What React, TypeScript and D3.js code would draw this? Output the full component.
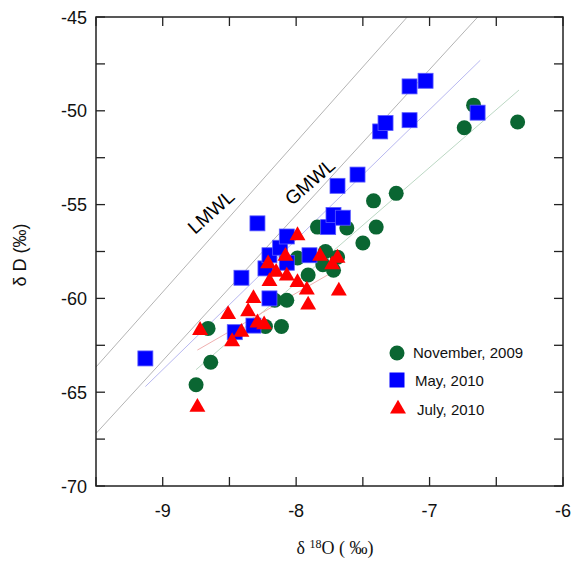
import React from "react";
import * as d3 from "d3";

const W = 573;
const H = 563;
const M = { left: 96, right: 10, top: 17, bottom: 77 };

const xDomain: [number, number] = [-9.5, -6];
const yDomain: [number, number] = [-70, -45];
const xTickLabels = [-9, -8, -7, -6];
const yTickLabels = [-70, -65, -60, -55, -50, -45];

// November, 2009
const novX = [-8.75, -8.64, -8.66, -8.23, -8.11, -8.16, -8.07, -7.99, -7.91, -7.84, -7.78, -7.8, -7.72, -7.69, -7.62, -7.5, -7.4, -7.42, -7.25, -6.74, -6.67, -6.34];
const novY = [-64.6, -63.4, -61.6, -61.5, -61.5, -60.1, -60.1, -57.85, -58.75, -56.2, -57.5, -58.2, -58.5, -57.8, -56.25, -57.05, -56.2, -54.8, -54.4, -50.9, -49.7, -50.6];

// May, 2010
const mayX = [-9.13, -8.46, -8.32, -8.41, -8.29, -8.2, -8.23, -8.2, -8.12, -8.07, -8.07, -7.9, -7.76, -7.72, -7.65, -7.69, -7.54, -7.37, -7.33, -7.15, -7.15, -7.03, -6.64];
const mayY = [-63.2, -61.8, -61.45, -58.9, -56.0, -60.0, -58.4, -57.7, -57.3, -56.7, -58.1, -57.7, -56.2, -55.55, -55.7, -54.0, -53.4, -51.1, -50.65, -50.5, -48.7, -48.4, -50.1];

// July, 2010
const julX = [-8.74, -8.72, -8.48, -8.41, -8.51, -8.36, -8.32, -8.29, -8.24, -8.2, -8.15, -8.21, -8.08, -8.07, -7.99, -7.99, -7.92, -7.91, -7.82, -7.73, -7.69, -7.68];
const julY = [-65.8, -61.7, -62.3, -61.8, -60.85, -60.7, -60.0, -61.3, -61.4, -59.1, -58.6, -58.15, -57.75, -58.8, -56.65, -59.15, -59.55, -60.35, -57.75, -58.2, -57.85, -59.6];

// Reference / regression lines: [x0, x1, slope, intercept]
const lineNames = ["LMWL", "GMWL", "May", "Nov", "Jul"];
const lineX0 = [-9.5, -9.5, -9.13, -8.75, -8.74];
const lineX1 = [-7.17, -6.64, -6.62, -6.33, -7.68];
const lineSlope = [8.0, 7.76, 6.93, 6.16, 4.1];
const lineIntercept = [12.34, 6.52, -1.43, -9.9, -26.92];
const lineColors = ["#b4b4b4", "#b4b4b4", "#b8b8f0", "#bcd8c4", "#f0b0b0"];

const legendLabels = ["November, 2009", "May, 2010", "July, 2010"];

const GREEN = "#0a6632";
const BLUE = "#0000ff";
const RED = "#ff0000";

export default function App() {
  const x = d3.scaleLinear().domain(xDomain).range([M.left, W - M.right - 0]);
  const y = d3.scaleLinear().domain(yDomain).range([H - M.bottom, M.top]);
  const x0 = M.left, x1 = W - M.right, y0 = M.top, y1 = H - M.bottom;

  const xMajor = d3.range(-9.5, -5.99, 0.5);
  const yMajor = d3.range(-70, -44.99, 2.5);
  const tick = 9;

  const sq = 15;
  const triPath = d3.symbol().type(d3.symbolTriangle).size(110)() as string;

  const nov = novX.map((v, i) => [v, novY[i]]);
  const may = mayX.map((v, i) => [v, mayY[i]]);
  const jul = julX.map((v, i) => [v, julY[i]]);

  const lineGen = d3.line<number[]>().x((d) => x(d[0])).y((d) => y(d[1]));

  return (
    <svg width={W} height={H} style={{ position: "absolute", left: 0, top: 0, background: "#fff" }}
      fontFamily="Liberation Sans, Arial, sans-serif">
      <defs>
        <clipPath id="plot">
          <rect x={x0} y={y0} width={x1 - x0} height={y1 - y0} />
        </clipPath>
      </defs>
      <g clipPath="url(#plot)">
        {lineNames.map((n, i) => {
          const pts = [lineX0[i], lineX1[i]].map((xv) => [xv, lineSlope[i] * xv + lineIntercept[i]]);
          return <path key={n} d={lineGen(pts) as string} stroke={lineColors[i]} strokeWidth={1} fill="none" />;
        })}
      </g>
      {/* markers */}
      {nov.map((d, i) => (
        <circle key={"n" + i} cx={x(d[0])} cy={y(d[1])} r={7.5} fill={GREEN} />
      ))}
      {may.map((d, i) => (
        <rect key={"m" + i} x={x(d[0]) - sq / 2} y={y(d[1]) - sq / 2} width={sq} height={sq} fill={BLUE} stroke="#5a5aff" strokeWidth={0.8} />
      ))}
      {jul.map((d, i) => (
        <path key={"j" + i} d={triPath} transform={`translate(${x(d[0])},${y(d[1])})`} fill={RED} />
      ))}

      {/* labels on lines */}
      <text x={212} y={218} fontSize={19} textAnchor="middle" transform="rotate(-42 212 213)">LMWL</text>
      <text x={311} y={188} fontSize={19} textAnchor="middle" transform="rotate(-41 311 183)">GMWL</text>

      {/* frame */}
      <rect x={x0} y={y0} width={x1 - x0} height={y1 - y0} fill="none" stroke="#222" strokeWidth={1.5} />
      {xMajor.map((v) => (
        <g key={"xt" + v}>
          <line x1={x(v)} x2={x(v)} y1={y1} y2={y1 - tick} stroke="#222" strokeWidth={1.3} />
          <line x1={x(v)} x2={x(v)} y1={y0} y2={y0 + tick} stroke="#222" strokeWidth={1.3} />
        </g>
      ))}
      {yMajor.map((v) => (
        <g key={"yt" + v}>
          <line x1={x0} x2={x0 + tick} y1={y(v)} y2={y(v)} stroke="#222" strokeWidth={1.3} />
          <line x1={x1} x2={x1 - tick} y1={y(v)} y2={y(v)} stroke="#222" strokeWidth={1.3} />
        </g>
      ))}
      {xTickLabels.map((v) => (
        <text key={"xl" + v} x={x(v)} y={y1 + 31} fontSize={18} textAnchor="middle" fill="#111">{v}</text>
      ))}
      {yTickLabels.map((v) => (
        <text key={"yl" + v} x={x0 - 9} y={y(v) + 6.5} fontSize={18} textAnchor="end" fill="#111">{v}</text>
      ))}

      {/* axis titles */}
      <text x={335} y={554} fontSize={18} textAnchor="middle" fontFamily="Liberation Serif, Times New Roman, serif" fill="#111">
        δ <tspan fontSize={12} dy={-6}>18</tspan><tspan dy={6}>O ( ‰)</tspan>
      </text>
      <text transform="translate(26,255) rotate(-90)" fontSize={18} textAnchor="middle" fill="#111">δ D (‰)</text>

      {/* legend */}
      <circle cx={397} cy={353} r={7.5} fill={GREEN} />
      <rect x={397 - sq / 2} y={380 - sq / 2} width={sq} height={sq} fill={BLUE} />
      <path d={triPath} transform="translate(398,409)" fill={RED} />
      {legendLabels.map((l, i) => (
        <text key={l} x={[413, 415, 417][i]} y={[353, 381, 410][i] + 5} fontSize={15} fill="#111">{l}</text>
      ))}
    </svg>
  );
}
